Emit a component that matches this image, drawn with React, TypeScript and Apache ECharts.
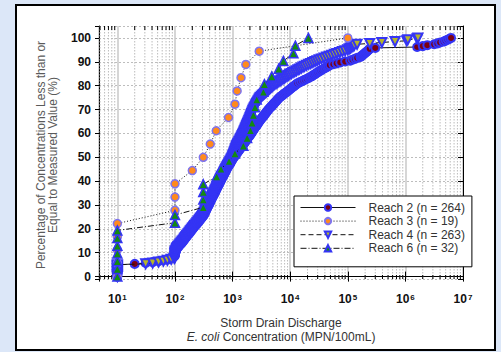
import React, { useEffect, useRef } from 'react';
import * as echarts from 'echarts';

// Sorted concentrations (MPN/100mL), one per sample
const reach2Conc = [
  10, 10, 10, 10, 10, 10, 10, 10, 10, 10, 10, 10, 10, 10,
  20, 31, 41, 52, 63, 74, 80, 90, 97,
  100, 100, 100, 100, 100, 100, 105, 105,
  108, 112, 115, 119, 122, 126, 130, 134, 138,
  142, 146, 150, 155, 159, 164, 168, 173, 178, 183, 188, 194, 200,
  205, 212, 218, 225, 231, 238, 246, 253, 261, 269, 277, 285, 294, 302, 311,
  316, 322, 328, 334, 340, 346, 352, 358, 365, 371, 378, 385, 392, 399, 406, 413, 421, 428,
  436, 444, 452, 460, 469, 477, 486, 495, 504, 513, 522, 532, 541, 551, 561, 572, 582, 593,
  603, 614, 626, 638, 650, 662, 675, 688, 701, 714, 728, 742, 756, 770, 785, 800, 815, 830, 846,
  870, 890, 910, 930, 950, 972, 994, 1016, 1040,
  1065, 1095, 1125, 1155, 1187, 1220, 1253, 1288, 1323, 1360, 1397, 1435, 1475,
  1510, 1550, 1590, 1630, 1675, 1720, 1765, 1810, 1855, 1905, 1955, 2005, 2055,
  2110, 2160, 2215, 2270, 2325, 2385, 2445, 2505, 2565, 2630, 2695, 2760, 2830,
  2905, 2990, 3075, 3160, 3250, 3345, 3440, 3540, 3640, 3745, 3850, 3960, 4075, 4190,
  4320, 4470, 4620, 4775, 4935, 5100, 5275, 5450, 5635, 5825, 6020, 6225, 6435,
  6700, 7020, 7360, 7710, 8080, 8470, 8880, 9300, 9750,
  10160, 10630, 11130, 11650, 12190, 12760, 13350,
  14500, 15600, 16800, 18100, 19500, 21000,
  22500, 23800, 25200, 26700, 28200, 29900, 31600,
  33700, 35800, 38100, 40600, 43200, 45900, 48900,
  56000, 64000, 74000, 90000, 110000,
  121000, 133000, 146000, 165000,
  172000, 180000, 188000, 196000, 205000, 214000, 223000, 232000, 240000, 300000,
  1600000, 2000000, 2400000, 3150000, 3600000, 4000000, 4600000, 5000000, 5400000, 5800000, 6200000,
];

const reach3Conc = [
  10, 10, 10, 10, 10, 100, 100, 100, 200, 310, 410, 520, 850, 1100, 1200, 1400, 1700, 2900, 100000,
];

const reach4Conc = [
  10, 10, 10, 10, 10, 10, 10, 10, 10, 10, 10, 10, 10, 10,
  31, 41, 52, 63, 74, 86, 97,
  100, 100, 100, 100, 100, 100, 100, 102, 104, 106,
  107, 110, 113, 117, 120, 124, 128, 131, 135,
  140, 144, 148, 152, 156, 161, 165, 170, 175, 180, 185, 190, 196,
  202, 208, 214, 220, 227, 234, 241, 248, 255, 263, 270, 278, 287, 295, 304,
  310, 315, 321, 327, 333, 339, 345, 351, 357, 364, 370, 377, 384, 391, 398, 405, 412, 420,
  428, 436, 444, 452, 460, 468, 477, 486, 495, 504, 513, 522, 532, 541, 551, 561, 571, 582,
  592, 603, 614, 625, 637, 649, 661, 673, 686, 699, 712, 725, 739, 752, 766, 781, 795, 810, 826,
  845, 862, 880, 898, 916, 935, 955, 975, 995,
  1010, 1025, 1040, 1055, 1070, 1085, 1100, 1115, 1130, 1145, 1160, 1175, 1195,
  1220, 1245, 1270, 1295, 1320, 1345, 1370, 1400, 1425, 1455, 1480, 1510, 1540,
  1565, 1590, 1615, 1640, 1665, 1690, 1720, 1745, 1775, 1800, 1830, 1860, 1890,
  1920, 1950, 1980, 2010, 2040, 2070, 2100, 2130, 2160, 2195, 2225, 2260, 2290,
  2330, 2380, 2430, 2480, 2530, 2580, 2630, 2690, 2740, 2800, 2860, 2920, 2980,
  3070, 3190, 3320, 3450, 3590, 3730, 3880, 4030, 4190, 4360, 4530, 4710, 4900,
  5100, 5390, 5690, 6010, 6350, 6710, 7090, 7490, 7920, 8360, 8840, 9340, 9870,
  10500, 11200, 12000, 12800, 13700, 14600, 15600, 16700, 17800,
  19300, 21000, 22800, 24800, 27000, 29300, 31900,
  35000, 38800, 43000, 47700, 52900, 58700,
  65000, 72500, 80800, 90000, 100000,
  106000, 112000, 118000, 124000, 130000,
  145000, 240000, 390000, 660000, 1050000, 1100000, 1600000, 1650000,
];

const reach6Conc = [
  10, 10, 10, 10, 10, 10, 10, 100, 100, 310, 310, 310, 310,
  530, 630, 870, 1100, 1540, 1790, 2040, 2180, 2300, 2450, 2630,
  3430, 3570, 4790, 6330, 7620, 11400, 12300, 20700,
];

const seriesNames = ['Reach 2 (n = 264)', 'Reach 3 (n = 19)', 'Reach 4 (n = 263)', 'Reach 6 (n = 32)'];
const xMin = 4.8;
const xMax = 1e7;
const yMin = -1;
const yMax = 105;
const decadeExps = [0, 1, 2, 3, 4, 5, 6];
const minorMultipliers = [2, 3, 4, 5, 6, 7, 8, 9];

const yTitle = 'Percentage of Concentrations Less than or\nEqual to Measured Value (%)';
const xTitle = 'Storm Drain Discharge\n{it|E. coli} Concentration (MPN/100mL)';

function cdf(conc: number[]) {
  const n = conc.length;
  return conc.map((c, i) => [c, (i / (n - 1)) * 100]);
}

const minorVals: number[] = [];
decadeExps.forEach((e) => {
  minorMultipliers.forEach((m) => {
    const v = m * Math.pow(10, e);
    if (v > xMin && v < xMax) minorVals.push(v);
  });
});

const FONT = '"Liberation Sans", Arial, sans-serif';
const BLUE = '#3434f4';

export default function App() {
  const ref = useRef<HTMLDivElement>(null);
  useEffect(() => {
    if (!ref.current) return;
    const chart = echarts.init(ref.current, undefined, { renderer: 'svg' });
    const lineBase = {
      type: 'line',
      showSymbol: true,
      emphasis: { disabled: true },
      clip: false,
    };
    chart.setOption({
      animation: false,
      backgroundColor: '#dce7f8',
      textStyle: { fontFamily: FONT },
      graphic: [
        {
          type: 'rect',
          z: -10,
          shape: { x: 16, y: 5, width: 479, height: 345 },
          style: { fill: '#ffffff', stroke: '#000000', lineWidth: 2 },
        },
        {
          type: 'text',
          x: 47,
          y: 155,
          rotation: Math.PI / 2,
          style: {
            text: yTitle,
            fontSize: 12,
            lineHeight: 12,
            fill: '#5a5a5a',
            fontFamily: FONT,
            align: 'center',
            verticalAlign: 'middle',
          },
        },
      ],
      grid: { left: 99, right: 38, top: 26, bottom: 73 },
      xAxis: [
        {
          type: 'log',
          min: xMin,
          max: xMax,
          position: 'bottom',
          axisLine: { show: true, lineStyle: { color: '#000', width: 1 } },
          axisTick: { show: true, length: 5, lineStyle: { color: '#000' } },
          axisLabel: {
            margin: 14,
            formatter: (v: number) => {
              const e = Math.log10(v);
              if (Math.abs(e - Math.round(e)) > 1e-6) return '';
              return `{b|10}{s|${Math.round(e)}}`;
            },
            rich: {
              b: { fontSize: 12, fontWeight: 'bold', color: '#111', fontFamily: FONT, verticalAlign: 'bottom' },
              s: { fontSize: 8, fontWeight: 'bold', color: '#111', fontFamily: FONT, verticalAlign: 'top', padding: [0, 0, 0, 1] },
            },
          },
          splitLine: { show: true, lineStyle: { color: '#c8c8c8', width: 1.5 } },
          name: xTitle,
          nameLocation: 'middle',
          nameGap: 37,
          nameTextStyle: {
            fontSize: 12,
            color: '#333',
            lineHeight: 14,
            fontFamily: FONT,
            rich: { it: { fontStyle: 'italic', fontSize: 12, color: '#333', lineHeight: 14, fontFamily: FONT } },
          },
        },
        {
          type: 'log',
          min: xMin,
          max: xMax,
          position: 'top',
          axisLine: { show: true, lineStyle: { color: '#000', width: 1 } },
          axisTick: { show: true, length: 5, lineStyle: { color: '#000' } },
          axisLabel: { show: false },
          splitLine: { show: false },
        },
      ],
      yAxis: [
        {
          type: 'value',
          min: yMin,
          max: yMax,
          splitNumber: 10,
          minInterval: 10,
          maxInterval: 10,
          axisLine: { show: true, lineStyle: { color: '#000', width: 1 } },
          axisTick: { show: true, length: 4, lineStyle: { color: '#000' } },
          axisLabel: {
            margin: 8,
            fontSize: 12,
            fontWeight: 'bold',
            color: '#111',
            formatter: (v: number) => (v >= 0 && v <= 100 && v % 10 === 0 ? String(v) : ''),
          },
          splitLine: { show: true, lineStyle: { color: '#bdbdbd', type: [2, 2], width: 1 } },
        },
        {
          type: 'value',
          min: yMin,
          max: yMax,
          splitNumber: 10,
          minInterval: 10,
          maxInterval: 10,
          position: 'right',
          axisLine: { show: true, lineStyle: { color: '#000', width: 1 } },
          axisTick: { show: true, inside: true, length: 5, lineStyle: { color: '#000' } },
          axisLabel: { show: false },
          splitLine: { show: false },
        },
      ],
      legend: {
        data: seriesNames,
        orient: 'vertical',
        left: 294,
        top: 196,
        itemWidth: 55,
        itemHeight: 8,
        itemGap: 0.6,
        backgroundColor: '#fff',
        borderColor: '#000',
        borderWidth: 1,
        borderRadius: 0,
        padding: [5, 7, 12, 6],
        selectedMode: false,
        lineStyle: { width: 1 },
        textStyle: { fontSize: 12, lineHeight: 13, color: '#333', padding: [0, 0, 0, 8], fontFamily: FONT },
      },
      series: [
        {
          type: 'custom',
          name: 'minorGrid',
          z: 1,
          silent: true,
          data: minorVals.map((v) => [v]),
          encode: { x: 0 },
          renderItem: (params: any, api: any) => {
            const x = api.value(0);
            const top = api.coord([x, yMax]);
            const bot = api.coord([x, yMin]);
            return {
              type: 'group',
              children: [
                {
                  type: 'line',
                  shape: { x1: top[0], y1: top[1], x2: bot[0], y2: bot[1] },
                  style: { stroke: '#bcbcbc', lineWidth: 1, lineDash: [1.5, 1.5] },
                },
                {
                  type: 'line',
                  shape: { x1: top[0], y1: top[1], x2: top[0], y2: top[1] + 4 },
                  style: { stroke: '#000', lineWidth: 1 },
                },
                {
                  type: 'line',
                  shape: { x1: bot[0], y1: bot[1], x2: bot[0], y2: bot[1] - 4 },
                  style: { stroke: '#000', lineWidth: 1 },
                },
              ],
            };
          },
        },
        {
          ...lineBase,
          name: seriesNames[0],
          z: 3,
          data: cdf(reach2Conc),
          symbol: 'circle',
          symbolSize: 8,
          itemStyle: { color: '#7a0012', borderColor: BLUE, borderWidth: 2 },
          lineStyle: { color: '#111', width: 1, type: 'solid' },
        },
        {
          ...lineBase,
          name: seriesNames[1],
          z: 5,
          data: cdf(reach3Conc),
          symbol: 'circle',
          symbolSize: 8,
          itemStyle: { color: '#ff8a1c', borderColor: '#7f74ee', borderWidth: 1.5 },
          lineStyle: { color: '#111', width: 1, type: [1, 2] },
        },
        {
          ...lineBase,
          name: seriesNames[2],
          z: 4,
          data: cdf(reach4Conc),
          symbol: 'triangle',
          symbolRotate: 180,
          symbolSize: 9,
          itemStyle: { color: '#b5b52a', borderColor: BLUE, borderWidth: 2 },
          lineStyle: { color: '#111', width: 1, type: [5, 3] },
        },
        {
          ...lineBase,
          name: seriesNames[3],
          z: 6,
          data: cdf(reach6Conc),
          symbol: 'triangle',
          symbolSize: 9,
          itemStyle: { color: '#138a13', borderColor: BLUE, borderWidth: 1.5 },
          lineStyle: { color: '#111', width: 1, type: [6, 2, 1, 2] },
        },
      ],
    });
    return () => chart.dispose();
  }, []);
  return (
    <div style={{ position: 'absolute', left: 0, top: 0, width: 501, height: 352 }}>
      <div ref={ref} style={{ width: 501, height: 352 }} />
    </div>
  );
}
